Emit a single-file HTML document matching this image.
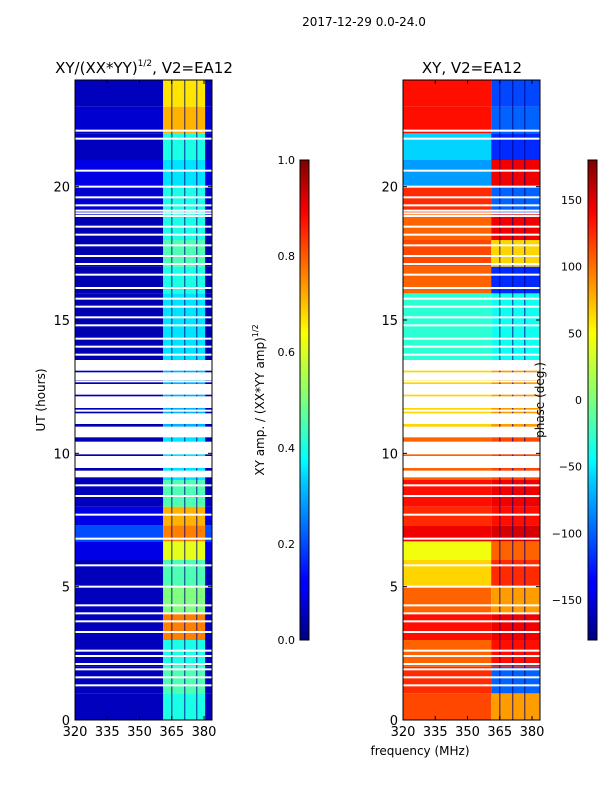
<!DOCTYPE html>
<html><head><meta charset="utf-8"><style>
body{margin:0;background:#fff;}
svg text{font-family:"DejaVu Sans","Liberation Sans",sans-serif;fill:#000;}
</style></head><body>
<svg id="fig" width="600" height="800" xmlns="http://www.w3.org/2000/svg">
<defs>
<linearGradient id="jet" x1="0" y1="1" x2="0" y2="0">
<stop offset="0" stop-color="#00007f"/><stop offset="0.11" stop-color="#0000ff"/><stop offset="0.125" stop-color="#0000ff"/>
<stop offset="0.34" stop-color="#00d4ff"/><stop offset="0.375" stop-color="#00ffff"/><stop offset="0.5" stop-color="#7dff7a"/>
<stop offset="0.64" stop-color="#ffff00"/><stop offset="0.75" stop-color="#ff8c00"/><stop offset="0.89" stop-color="#ff0000"/><stop offset="1" stop-color="#7f0000"/>
</linearGradient>
</defs>
<text x="364" y="26" font-size="12" text-anchor="middle">2017-12-29 0.0-24.0</text>
<text x="144" y="73" font-size="15" text-anchor="middle">XY/(XX*YY)<tspan font-size="9" dy="-7">1/2</tspan><tspan dy="7">, V2=EA12</tspan></text>
<text x="472" y="73" font-size="15" text-anchor="middle">XY, V2=EA12</text>
<g id="left"></g>
<g id="right"></g>
<g id="axes"></g>
<text transform="translate(45,400) rotate(-90)" font-size="12" text-anchor="middle">UT (hours)</text>
<text x="420" y="755" font-size="12" text-anchor="middle">frequency (MHz)</text>
<rect x="300" y="160" width="9" height="480" fill="url(#jet)" stroke="#000" stroke-width="1"/>
<rect x="588" y="160" width="9" height="480" fill="url(#jet)" stroke="#000" stroke-width="1"/>
<text transform="translate(264,400) rotate(-90)" font-size="12" text-anchor="middle">XY amp. / (XX*YY amp)<tspan font-size="8" dy="-6">1/2</tspan></text>
<text transform="translate(544,400) rotate(-90)" font-size="12" text-anchor="middle">phase (deg.)</text>
</svg>
<script>
// data
const segBounds=[0,1,2,3,4,5,6,6.7,7.3,8,9,11,13.5,16,17,18,19,20,21,22,23,24];
const ampHigh=[0.4,0.45,0.4,0.75,0.5,0.45,0.6,0.75,0.7,0.45,0.35,0.3,0.35,0.4,0.45,0.4,0.4,0.35,0.4,0.7,0.65];
const ampLow=[0.06,0.06,0.06,0.06,0.06,0.06,0.1,0.2,0.1,0.06,0.05,0.05,0.05,0.05,0.05,0.05,0.08,0.1,0.06,0.08,0.06];
const phaseLow=[110,120,100,130,100,60,40,140,120,130,100,60,-30,100,110,100,120,-80,-60,130,130];
const phaseHigh=[80,-100,130,140,80,120,100,150,130,140,110,80,-40,-120,60,140,-100,140,-120,-100,-110];
const gaps=[1.3,1.6,1.9,2.1,2.4,2.6,3.3,3.7,4.0,4.3,5.0,5.8,6.8,7.7,8.4,8.8,9.2,9.6,10.0,10.4,10.8,11.2,11.6,11.9,12.1,12.4,12.7,13.0,13.4,13.7,14.0,14.3,14.8,15.1,15.5,15.8,16.2,16.7,17.1,17.4,17.8,18.2,18.5,18.9,19.0,19.1,19.3,19.6,20.0,20.6,21.8,22.1];
const wideGapStart=[9.1,9.45,10.0,10.6,11.1,11.7,12.2,12.75,13.1];
const wideGapEnd=[9.35,9.9,10.4,11.0,11.5,12.1,12.6,13.0,13.5];
const yTicks=[0,5,10,15,20];
const xTicks=[320,335,350,365,380];
const ampTicks=[0.0,0.2,0.4,0.6,0.8,1.0];
const phaseTicks=[-150,-100,-50,0,50,100,150];
const NS="http://www.w3.org/2000/svg";
const fmin=320,fmax=383.7,fsplit=361,fedge=380.5,yTop=80,yBot=720;
const yS=h=>yBot-(h/24)*(yBot-yTop);
function jet(v){v=Math.max(0,Math.min(1,v));
 const r=Math.max(0,Math.min(1,1.5-Math.abs(4*v-3))),g=Math.max(0,Math.min(1,1.5-Math.abs(4*v-2))),b=Math.max(0,Math.min(1,1.5-Math.abs(4*v-1)));
 return `rgb(${Math.round(r*255)},${Math.round(g*255)},${Math.round(b*255)})`;}
function mk(p,tag,a){const e=document.createElementNS(NS,tag);for(const k in a)e.setAttribute(k,a[k]);p.appendChild(e);return e;}
function panel(id,x0,x1,low,high,norm,edgeLow){
 const g=document.getElementById(id);const xS=f=>x0+(f-fmin)/(fmax-fmin)*(x1-x0);
 for(let i=0;i<segBounds.length-1;i++){
  const y1=yS(segBounds[i+1]),y2=yS(segBounds[i]);
  let r=mk(g,'rect',{x:x0,y:y1,width:xS(fsplit)-x0,height:y2-y1,fill:jet(norm(low[i]))});
  
  
  const xe=edgeLow?xS(fedge):x1;
  r=mk(g,'rect',{x:xS(fsplit),y:y1,width:xe-xS(fsplit),height:y2-y1,fill:jet(norm(high[i]))});
  
  
  if(edgeLow){r=mk(g,'rect',{x:xe,y:y1,width:x1-xe,height:y2-y1,fill:jet(norm(low[i]))});
   
   }
 }
 [365,371,376.6].forEach(f=>{const l=mk(g,'rect',{x:xS(f)-0.7,y:yTop,width:1.4,height:yBot-yTop,fill:'#00007f',opacity:0.6});
  
  });
 gaps.forEach(h=>{const r=mk(g,'rect',{x:x0,y:yS(h)-1,width:x1-x0,height:2,fill:'#fff'});
  
  });
 wideGapStart.forEach((s,i)=>{const r=mk(g,'rect',{x:x0,y:yS(wideGapEnd[i]),width:x1-x0,height:yS(s)-yS(wideGapEnd[i]),fill:'#fff'});
  
  });
}
panel('left',75,212,ampLow,ampHigh,v=>v,true);
panel('right',403,540,phaseLow,phaseHigh,v=>(v+180)/360,false);
const ax=document.getElementById('axes');
[[75,212],[403,540]].forEach(([x0,x1])=>{
 const fr=mk(ax,'rect',{x:x0,y:yTop,width:x1-x0,height:yBot-yTop,fill:'none',stroke:'#000','stroke-width':1});
 
 
 yTicks.forEach(t=>{const y=yS(t);mk(ax,'line',{x1:x0,x2:x0+4,y1:y,y2:y,stroke:'#000'});mk(ax,'line',{x1:x1,x2:x1-4,y1:y,y2:y,stroke:'#000'});
  const tx=mk(ax,'text',{x:x0-5,y:y+5,'font-size':13,'text-anchor':'end'});tx.textContent=t;
  
  });
 xTicks.forEach(t=>{const x=x0+(t-fmin)/(fmax-fmin)*(x1-x0);mk(ax,'line',{x1:x,x2:x,y1:yBot,y2:yBot-4,stroke:'#000'});mk(ax,'line',{x1:x,x2:x,y1:yTop,y2:yTop+4,stroke:'#000'});
  const tx=mk(ax,'text',{x:x,y:yBot+16,'font-size':13,'text-anchor':'middle'});tx.textContent=t;
  
  });
});
ampTicks.forEach(t=>{const y=640-t*480;mk(ax,'line',{x1:300,x2:309,y1:y,y2:y,stroke:'#000'});
 const tx=mk(ax,'text',{x:295,y:y+4,'font-size':11,'text-anchor':'end'});tx.textContent=t.toFixed(1);
 
 });
phaseTicks.forEach(t=>{const y=400-t*480/360;mk(ax,'line',{x1:588,x2:597,y1:y,y2:y,stroke:'#000'});
 const tx=mk(ax,'text',{x:582,y:y+4,'font-size':11,'text-anchor':'end'});tx.textContent=t<0?'\u2212'+(-t):t;
 
 });
</script>
</body></html>
